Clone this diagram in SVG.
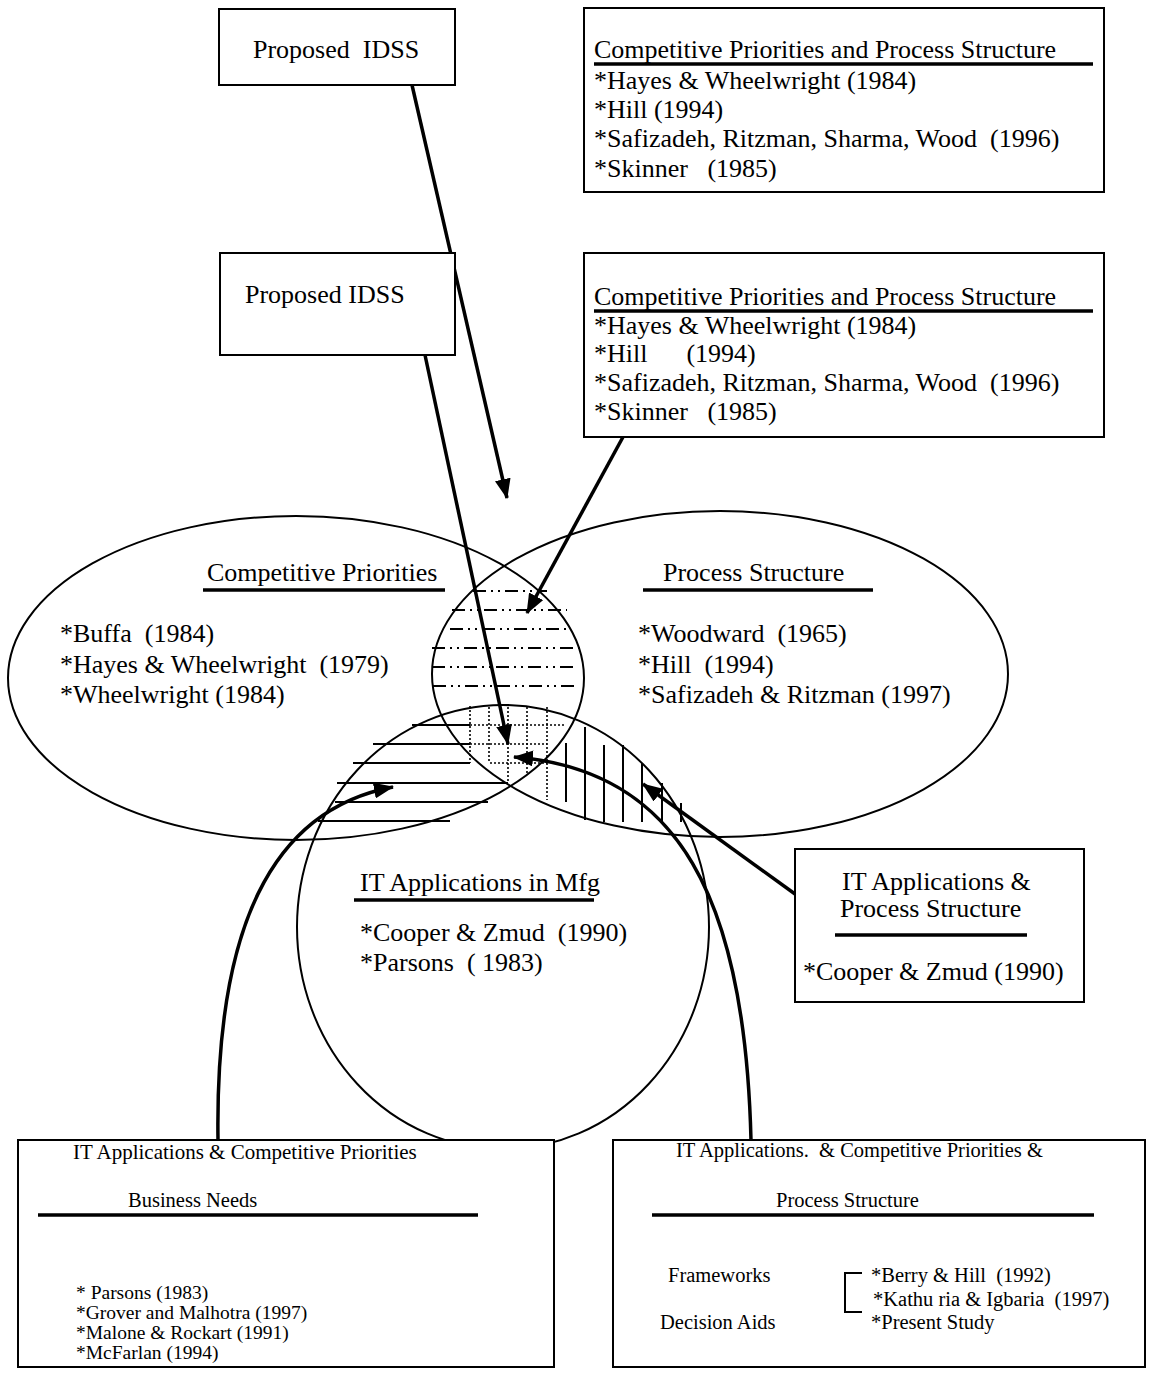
<svg xmlns="http://www.w3.org/2000/svg" width="1151" height="1373" viewBox="0 0 1151 1373">
<style>
.t{font-family:"Liberation Serif","Times New Roman",serif;font-size:26px;fill:#000;white-space:pre}
.s{font-size:20.5px}
.ti{font-size:21px}
.l{font-size:19.5px}
.box{fill:#fff;stroke:#000;stroke-width:2}
.ell{fill:none;stroke:#000;stroke-width:2}
.ul{stroke:#000;stroke-width:3.5}
.arr{fill:none;stroke:#000;stroke-width:3.5}
.dd{stroke:#000;stroke-width:2;stroke-dasharray:13 5 2 5 2 5}
.dot{stroke:#000;stroke-width:1.6;stroke-dasharray:2 2}
.h{stroke:#000;stroke-width:2}
</style>
<defs>
<marker id="ah" viewBox="0 0 20 16" refX="19" refY="8" markerWidth="20" markerHeight="16" markerUnits="userSpaceOnUse" orient="auto">
<path d="M0,0 L20,8 L0,16 Z" fill="#000"/>
</marker>
</defs>
<rect width="1151" height="1373" fill="#fff"/>

<g id="hatch">
<line class="dd" x1="473" y1="591" x2="547" y2="591"/>
<line class="dd" x1="452" y1="610" x2="567" y2="610"/>
<line class="dd" x1="450" y1="629" x2="567" y2="629"/>
<line class="dd" x1="432" y1="648" x2="585" y2="648"/>
<line class="dd" x1="432" y1="667" x2="578" y2="667"/>
<line class="dd" x1="433" y1="686" x2="578" y2="686"/>
<line class="dot" x1="470" y1="725" x2="565" y2="725"/>
<line class="dot" x1="470" y1="744" x2="547" y2="744"/>
<line class="dot" x1="490" y1="763" x2="547" y2="763"/>
<line class="dot" x1="470" y1="706" x2="470" y2="763"/>
<line class="dot" x1="489" y1="707" x2="489" y2="763"/>
<line class="dot" x1="508" y1="707" x2="508" y2="782"/>
<line class="dot" x1="527" y1="707" x2="527" y2="773"/>
<line class="dot" x1="547" y1="707" x2="547" y2="800"/>
<line class="h" x1="412" y1="725" x2="470" y2="725"/>
<line class="h" x1="373" y1="744" x2="470" y2="744"/>
<line class="h" x1="353" y1="763" x2="470" y2="763"/>
<line class="h" x1="337" y1="783" x2="508" y2="783"/>
<line class="h" x1="335" y1="802" x2="488" y2="802"/>
<line class="h" x1="318" y1="821" x2="450" y2="821"/>
<line class="h" x1="566" y1="743" x2="566" y2="802"/>
<line class="h" x1="585" y1="727" x2="585" y2="820"/>
<line class="h" x1="604" y1="745" x2="604" y2="822"/>
<line class="h" x1="623" y1="745" x2="623" y2="822"/>
<line class="h" x1="642" y1="763" x2="642" y2="822"/>
<line class="h" x1="662" y1="783" x2="662" y2="822"/>
<line class="h" x1="681" y1="803" x2="681" y2="822"/>
</g>

<g id="ellipse-competitive-priorities">
<ellipse class="ell" cx="296" cy="678" rx="288" ry="162"/>
<text class="t" x="207" y="581">Competitive Priorities</text>
<line class="ul" x1="203" y1="590" x2="445" y2="590"/>
<text class="t" x="60" y="642">*Buffa  (1984)</text>
<text class="t" x="60" y="673">*Hayes &amp; Wheelwright  (1979)</text>
<text class="t" x="60" y="703">*Wheelwright (1984)</text>
</g>

<g id="ellipse-process-structure">
<ellipse class="ell" cx="720" cy="674" rx="288" ry="163"/>
<text class="t" x="663" y="581">Process Structure</text>
<line class="ul" x1="643" y1="590" x2="873" y2="590"/>
<text class="t" x="638" y="642">*Woodward  (1965)</text>
<text class="t" x="638" y="673">*Hill  (1994)</text>
<text class="t" x="638" y="703">*Safizadeh &amp; Ritzman (1997)</text>
</g>

<g id="circle-it-applications">
<ellipse class="ell" cx="503" cy="927" rx="206" ry="222"/>
<text class="t" x="360" y="891">IT Applications in Mfg</text>
<line class="ul" x1="354" y1="900" x2="594" y2="900"/>
<text class="t" x="360" y="941">*Cooper &amp; Zmud  (1990)</text>
<text class="t" x="360" y="971">*Parsons  ( 1983)</text>
</g>

<g id="box-proposed-idss-1">
<rect class="box" x="219" y="9" width="236" height="76"/>
<text class="t" x="253" y="58">Proposed  IDSS</text>
</g>

<g id="box-cp-ps-1">
<rect class="box" x="584" y="8" width="520" height="184"/>
<text class="t" x="594" y="58">Competitive Priorities and Process Structure</text>
<line class="ul" x1="594" y1="64" x2="1093" y2="64"/>
<text class="t" x="594" y="89">*Hayes &amp; Wheelwright (1984)</text>
<text class="t" x="594" y="118">*Hill (1994)</text>
<text class="t" x="594" y="147">*Safizadeh, Ritzman, Sharma, Wood  (1996)</text>
<text class="t" x="594" y="177">*Skinner   (1985)</text>
</g>

<g id="box-cp-ps-2">
<rect class="box" x="584" y="253" width="520" height="184"/>
<text class="t" x="594" y="305">Competitive Priorities and Process Structure</text>
<line class="ul" x1="594" y1="311" x2="1093" y2="311"/>
<text class="t" x="594" y="334">*Hayes &amp; Wheelwright (1984)</text>
<text class="t" x="594" y="362">*Hill      (1994)</text>
<text class="t" x="594" y="391">*Safizadeh, Ritzman, Sharma, Wood  (1996)</text>
<text class="t" x="594" y="420">*Skinner   (1985)</text>
</g>

<g id="box-it-ps">
<rect class="box" x="795" y="849" width="289" height="153"/>
<text class="t" x="842" y="890">IT Applications &amp;</text>
<text class="t" x="840" y="917">Process Structure</text>
<line class="ul" x1="835" y1="935" x2="1027" y2="935"/>
<text class="t" x="803" y="980">*Cooper &amp; Zmud (1990)</text>
</g>

<g id="box-it-cp">
<rect class="box" x="18" y="1140" width="536" height="227"/>
<text class="t ti" x="73" y="1159">IT Applications &amp; Competitive Priorities</text>
<text class="t s" x="128" y="1207">Business Needs</text>
<line class="ul" x1="38" y1="1215" x2="478" y2="1215"/>
<text class="t l" x="76" y="1299">* Parsons (1983)</text>
<text class="t l" x="76" y="1319">*Grover and Malhotra (1997)</text>
<text class="t l" x="76" y="1339">*Malone &amp; Rockart (1991)</text>
<text class="t l" x="76" y="1359">*McFarlan (1994)</text>
</g>

<g id="box-it-cp-ps">
<rect class="box" x="613" y="1140" width="532" height="227"/>
<text class="t s" x="676" y="1157">IT Applications.  &amp; Competitive Priorities &amp;</text>
<text class="t s" x="776" y="1207">Process Structure</text>
<line class="ul" x1="652" y1="1215" x2="1094" y2="1215"/>
<text class="t s" x="668" y="1282">Frameworks</text>
<text class="t s" x="660" y="1329">Decision Aids</text>
<path d="M862,1273 H845 V1312 H862" fill="none" stroke="#000" stroke-width="2"/>
<text class="t s" x="871" y="1282">*Berry &amp; Hill  (1992)</text>
<text class="t s" x="873" y="1306">*Kathu ria &amp; Igbaria  (1997)</text>
<text class="t s" x="871" y="1329">*Present Study</text>
</g>

<g id="connectors">
<line class="arr" x1="412" y1="85" x2="507" y2="498" marker-end="url(#ah)"/>
<line class="arr" x1="425" y1="355" x2="508" y2="744" marker-end="url(#ah)"/>
<line class="arr" x1="623" y1="437" x2="527" y2="613" marker-end="url(#ah)"/>
<line class="arr" x1="795" y1="894" x2="643" y2="784" marker-end="url(#ah)"/>
<path class="arr" d="M751,1140 C745,900 680,770 514,757" marker-end="url(#ah)"/>
<path class="arr" d="M218,1140 C215,930 270,810 393,787" marker-end="url(#ah)"/>
</g>

<g id="box-proposed-idss-2">
<rect class="box" x="220" y="253" width="235" height="102"/>
<text class="t" x="245" y="303">Proposed IDSS</text>
</g>
</svg>
